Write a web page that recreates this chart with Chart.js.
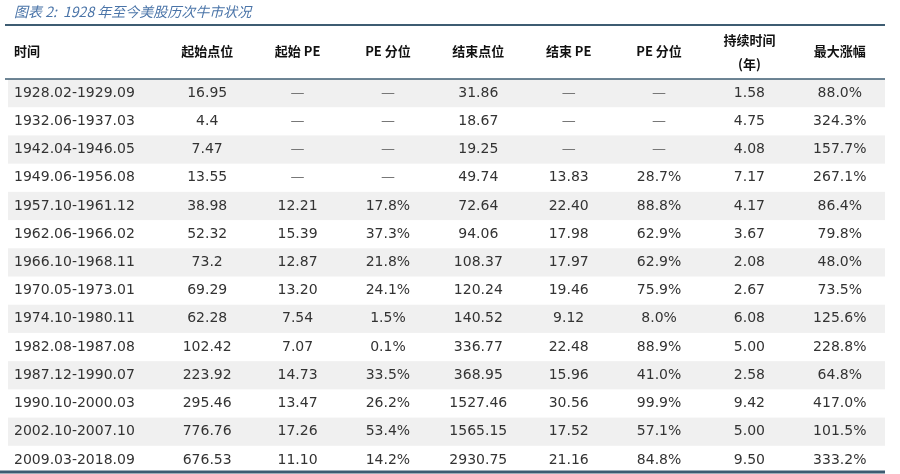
<!DOCTYPE html>
<html><head><meta charset="utf-8">
<script src="https://cdn.jsdelivr.net/npm/chart.js@4"></script>
<style>html,body{margin:0;padding:0;background:#fff}#c{display:block}</style>
</head><body>
<div style="width:900px;height:474px"><canvas id="c"></canvas></div>
<script>
const title = "图表 2:  1928 年至今美股历次牛市状况";
const headers = ["起始点位","起始 PE","PE 分位","结束点位","结束 PE","PE 分位","持续时间\n(年)","最大涨幅"];
const periods = ["1928.02-1929.09","1932.06-1937.03","1942.04-1946.05","1949.06-1956.08","1957.10-1961.12","1962.06-1966.02","1966.10-1968.11","1970.05-1973.01","1974.10-1980.11","1982.08-1987.08","1987.12-1990.07","1990.10-2000.03","2002.10-2007.10","2009.03-2018.09"];
const startLevel = ["16.95","4.4","7.47","13.55","38.98","52.32","73.2","69.29","62.28","102.42","223.92","295.46","776.76","676.53"];
const startPE = ["—","—","—","—","12.21","15.39","12.87","13.20","7.54","7.07","14.73","13.47","17.26","11.10"];
const startPct = ["—","—","—","—","17.8%","37.3%","21.8%","24.1%","1.5%","0.1%","33.5%","26.2%","53.4%","14.2%"];
const endLevel = ["31.86","18.67","19.25","49.74","72.64","94.06","108.37","120.24","140.52","336.77","368.95","1527.46","1565.15","2930.75"];
const endPE = ["—","—","—","13.83","22.40","17.98","17.97","19.46","9.12","22.48","15.96","30.56","17.52","21.16"];
const endPct = ["—","—","—","28.7%","88.8%","62.9%","62.9%","75.9%","8.0%","88.9%","41.0%","99.9%","57.1%","84.8%"];
const years = ["1.58","4.75","4.08","7.17","4.17","3.67","2.08","2.67","6.08","5.00","2.58","9.42","5.00","9.50"];
const maxGain = ["88.0%","324.3%","157.7%","267.1%","86.4%","79.8%","48.0%","73.5%","125.6%","228.8%","64.8%","417.0%","101.5%","333.2%"];
const columns = [startLevel,startPE,startPct,endLevel,endPE,endPct,years,maxGain];

const tablePlugin = {
  id:'table',
  afterDraw(chart){
    const ctx = chart.ctx, x = chart.scales.x, y = chart.scales.y;
    const L = 8, R = 885, rowH = y.getPixelForValue(1) - y.getPixelForValue(0);
    ctx.save();
    periods.forEach((p,i)=>{
      if(i%2===0){ ctx.fillStyle='#f0f0f0'; const cy=y.getPixelForValue(i); ctx.fillRect(L,cy-rowH/2,R-L,rowH); }
    });
    ctx.fillStyle='#4a74a8'; ctx.font='italic 14px "Noto Sans CJK SC"'; ctx.textBaseline='middle'; ctx.textAlign='left';
    ctx.fillText(title,14,12);
    ctx.strokeStyle='#3e5c72'; ctx.lineWidth=2;
    ctx.beginPath(); ctx.moveTo(5,25); ctx.lineTo(R,25); ctx.stroke();
    ctx.lineWidth=1.5; const hb = chart.chartArea.top;
    ctx.beginPath(); ctx.moveTo(5,hb); ctx.lineTo(R,hb); ctx.stroke();
    ctx.lineWidth=3; ctx.beginPath(); ctx.moveTo(0,472); ctx.lineTo(R,472); ctx.stroke();
    ctx.fillStyle='#111'; ctx.font='bold 13px "Noto Sans CJK SC"';
    ctx.textAlign='left'; ctx.fillText("时间",14,51);
    headers.forEach((h,j)=>{
      ctx.textAlign='center'; const cx=x.getPixelForValue(j);
      const parts=h.split('\n');
      if(parts.length>1){ ctx.fillText(parts[0],cx,40); ctx.fillText(parts[1],cx,64); }
      else ctx.fillText(h,cx,51);
    });
    ctx.font='14px "DejaVu Sans"';
    periods.forEach((p,i)=>{
      const cy=y.getPixelForValue(i);
      ctx.fillStyle='#333'; ctx.textAlign='left'; ctx.fillText(p,14,cy);
      columns.forEach((col,j)=>{
        ctx.textAlign='center'; ctx.fillStyle = col[i]==='—' ? '#777' : '#333';
        ctx.fillText(col[i],x.getPixelForValue(j),cy);
      });
    });
    ctx.restore();
  }
};

new Chart(document.getElementById('c'),{
  type:'scatter',
  data:{datasets:[{data:[]}]},
  options:{
    responsive:true, maintainAspectRatio:false, animation:false,
    layout:{padding:{left:162,right:15,top:79,bottom:0}},
    plugins:{legend:{display:false},tooltip:{enabled:false}},
    scales:{
      x:{type:'category',labels:headers,offset:true,display:false},
      y:{type:'category',labels:periods,offset:true,display:false}
    }
  },
  plugins:[tablePlugin]
});
</script>
</body></html>
